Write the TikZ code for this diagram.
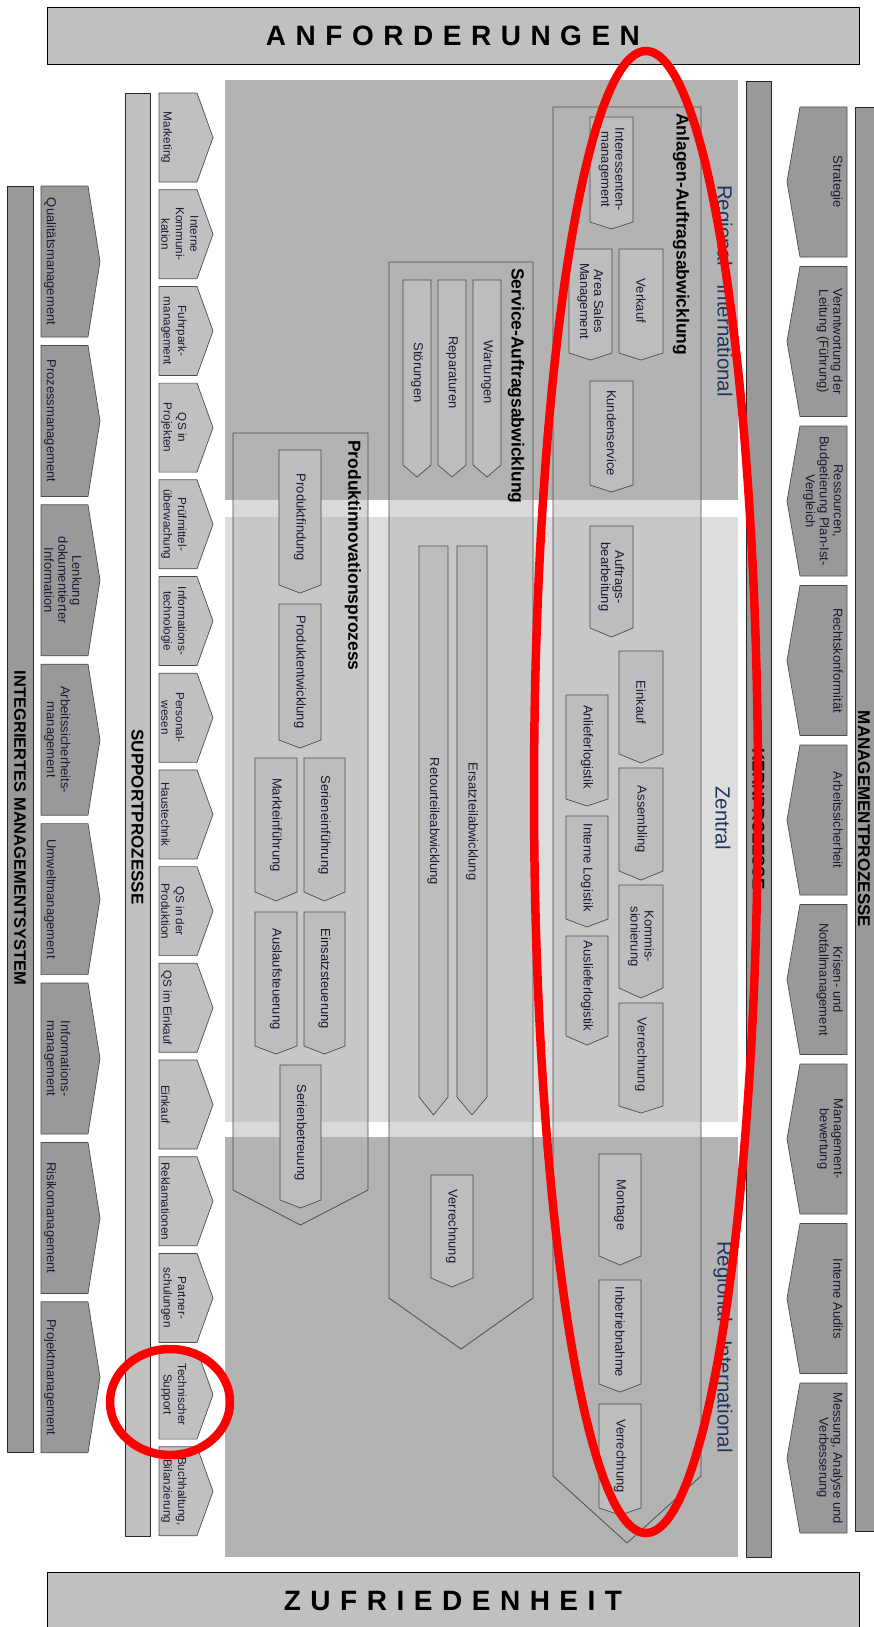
\documentclass[tikz,border=0pt]{standalone}
\usepackage{fontspec}
\setmainfont{Liberation Sans}
\newfontfamily\spacedfont[LetterSpace=34]{Liberation Sans}
\usetikzlibrary{positioning}

\begin{document}
\begin{tikzpicture}[x=1pt, y=-1pt, line join=round, line cap=round,
		mbar/.style={draw=black!85, line width=0.9pt},
		pitem/.style={draw=black!70, line width=0.7pt},
		procframe/.style={draw=black!70, line width=0.8pt, fill=zonedk, fill opacity=0.5},
		lbl/.style={rotate=-90, align=center, inner sep=0pt, text=lblc, font=\fontsize{13}{14}\selectfont},
		slbl/.style={lbl, font=\fontsize{11.7}{14.5}\selectfont},
		ttl/.style={rotate=-90, anchor=west, inner sep=0pt, font=\bfseries\fontsize{17.5}{20}\selectfont},
		zonelbl/.style={rotate=-90, inner sep=0pt, text=zonec, font=\fontsize{20.5}{24}\selectfont},
		barlbl/.style={rotate=-90, inner sep=0pt, font=\bfseries\fontsize{17}{20}\selectfont},
		banner/.style={draw=black, line width=0.9pt, fill=hdrc, minimum width=812pt, minimum height=57pt,
			font=\spacedfont\bfseries\fontsize{28}{32}\selectfont},
		redring/.style={draw=red, line width=8.5pt}]
		
		% Colours
		\definecolor{hdrc}{HTML}{C0C0C0}
		\definecolor{dkc}{HTML}{999999}
		\definecolor{zonedk}{HTML}{B3B3B3}
		\definecolor{zonelt}{HTML}{DDDDDD}
		\definecolor{boxc}{HTML}{BDBDBD}
		\definecolor{lblc}{HTML}{1A1A33}
		\definecolor{zonec}{HTML}{1F3560}
		
		\useasboundingbox (0,0) rectangle (873,1627);
		
		% 1. Anforderungen / Zufriedenheit
		\node[banner] (anf) at (453,35.5) {ANFORDERUNGEN};
		\node[banner] (zuf) at (453,1600.5) {ZUFRIEDENHEIT};
		
		% 2. Integriertes Managementsystem (left)
		\draw[mbar, fill=dkc] (7,186) rectangle (33,1452);
		\node[barlbl, font=\bfseries\fontsize{16.5}{20}\selectfont] (ims) at (20,828) {INTEGRIERTES MANAGEMENTSYSTEM};
		\foreach \k/\nm/\txt in {0/qm/Qualitätsmanagement, 1/pm/Prozessmanagement,
			2/lenk/{Lenkung\\dokumentierter\\Information}, 3/asm/{Arbeitssicherheits-\\management},
			4/um/Umweltmanagement, 5/im/{Informations-\\management}, 6/rm/Risikomanagement,
			7/projm/Projektmanagement}{
			\pgfmathsetmacro\yt{186+159.4*\k}
			\draw[pitem, fill=dkc] (41,\yt) -- (88,\yt) -- (100,\yt+75.5) -- (88,\yt+151) -- (41,\yt+151) -- cycle;
			\node[lbl, anchor=south] (\nm) at (44,\yt+75.5) {\txt};
		}
		
		% 3. Supportprozesse
		\draw[mbar, fill=hdrc] (125,93) rectangle (150,1536);
		\node[barlbl] (sup) at (137.5,817) {SUPPORTPROZESSE};
		\foreach \k/\nm/\txt in {0/mkt/Marketing, 1/ikom/{Interne\\Kommuni-\\kation}, 2/fuhr/{Fuhrpark-\\management},
			3/qsproj/{QS in\\Projekten}, 4/pruef/{Prüfmittel-\\überwachung}, 5/it/{Informations-\\technologie},
			6/pers/{Personal-\\wesen}, 7/haus/Haustechnik, 8/qsprod/{QS in der\\Produktion},
			9/qsek/QS im Einkauf, 10/ek/Einkauf, 11/rekl/Reklamationen, 12/partn/{Partner-\\schulungen},
			13/techs/{Technischer\\Support}, 14/buch/{Buchhaltung,\\Bilanzierung}}{
			\pgfmathsetmacro\yt{93+96.7*\k}
			\draw[pitem, fill=hdrc] (159,\yt) -- (197,\yt) -- (213,\yt+44.5) -- (197,\yt+89) -- (159,\yt+89) -- cycle;
			\node[slbl, anchor=south] (\nm) at (161,\yt+44.5) {\txt};
		}
		
		% 4. Kernprozesse: zones and bar
		\fill[zonedk] (225,80) rectangle (738,500);
		\fill[zonelt] (225,517) rectangle (738,1122);
		\fill[zonedk] (225,1137) rectangle (738,1557);
		\node[zonelbl] (regtop) at (723,291) {Regional - International};
		\node[zonelbl] (zentral) at (723,818) {Zentral};
		\node[zonelbl] (regbot) at (723,1347) {Regional - International};
		\draw[mbar, fill=dkc] (746,81) rectangle (771,1557);
		\node[barlbl] (kern) at (758.5,819) {KERNPROZESSE};
		
		% 5. Process frames (pointing down)
		\draw[procframe] (233,433) -- (368,433) -- (368,1190) -- (300.5,1225) -- (233,1190) -- cycle;
		\draw[procframe] (389,262) -- (533,262) -- (533,1298) -- (461,1349) -- (389,1298) -- cycle;
		\draw[procframe] (553,107) -- (701,107) -- (701,1476) -- (627,1543) -- (553,1476) -- cycle;
		\node[ttl] (pinno) at (353,440) {Produktinnovationsprozess};
		\node[ttl] (service) at (516,268) {Service-Auftragsabwicklung};
		\node[ttl] (anlagen) at (681,113) {Anlagen-Auftragsabwicklung};
		
		% 6. Process steps: x left/right, top, bottom, tip
		\foreach \xl/\xr/\yt/\yb/\yp/\nm/\txt in {
			279/321/450/585/593/pfind/Produktfindung,
			279/321/604/740/748/pentw/Produktentwicklung,
			255/297/758/892/901/markt/Markteinführung,
			304/345/758/892/901/serein/Serieneinführung,
			255/297/912/1046/1054/auslauf/Auslaufsteuerung,
			304/345/912/1046/1054/einsatz/Einsatzsteuerung,
			280/321/1065/1200/1208/serbetr/Serienbetreuung,
			473/501/280/465/477/wart/Wartungen,
			438/466/280/465/477/rep/Reparaturen,
			403/431/280/465/477/stoer/Störungen,
			457/487/546/1097/1115/ersatz/Ersatzteilabwicklung,
			419/448/546/1097/1115/retour/Retourteileabwicklung,
			431/473/1175/1278/1287/sverr/Verrechnung,
			590/633/117/222/229/interes/{Interessenten-\\management},
			619/663/249/353/360/verk/Verkauf,
			569/612/249/353/360/area/{Area Sales\\Management},
			590/633/381/485/492/kunden/Kundenservice,
			590/633/526/628/637/auftr/{Auftrags-\\bearbeitung},
			619/663/651/754/763/einkauf/Einkauf,
			619/663/768/871/880/assem/Assembling,
			619/663/885/988/998/kommis/{Kommis-\\sionierung},
			619/663/1003/1106/1113/verrz/Verrechnung,
			566/608/695/799/806/anlief/Anlieferlogistik,
			566/608/816/919/927/intlog/Interne Logistik,
			566/608/936/1036/1045/auslief/Auslieferlogistik,
			599/641/1154/1256/1265/mont/Montage,
			599/641/1280/1384/1392/inbetr/Inbetriebnahme,
			599/641/1404/1508/1515/verrr/Verrechnung}{
			\draw[pitem, fill=boxc] (\xl,\yt) -- (\xr,\yt) -- (\xr,\yb) -- ({(\xl+\xr)/2},\yp) -- (\xl,\yb) -- cycle;
			\node[lbl] (\nm) at ({(\xl+\xr)/2},{(\yt+\yb)/2}) {\txt};
		}
		
		% 7. Managementprozesse (right)
		\draw[mbar, fill=dkc] (855,107) rectangle (890,1531);
		\node[barlbl] (mgmt) at (864,819) {MANAGEMENTPROZESSE};
		\foreach \k/\nm/\txt in {0/strat/Strategie, 1/verantw/{Verantwortung der\\Leitung (Führung)},
			2/ressourc/{Ressourcen,\\Budgetierung Plan-Ist-\\Vergleich}, 3/recht/Rechtskonformität,
			4/arbs/Arbeitssicherheit, 5/krisen/{Krisen- und\\Notfallmanagement}, 6/mbew/{Management-\\bewertung},
			7/audits/Interne Audits, 8/messung/{Messung, Analyse und\\Verbesserung}}{
			\pgfmathsetmacro\yt{107+159.5*\k}
			\draw[pitem, fill=dkc] (847,\yt) -- (800,\yt) -- (787,\yt+75) -- (800,\yt+150) -- (847,\yt+150) -- cycle;
			\node[lbl, anchor=north] (\nm) at (843,\yt+75) {\txt};
		}
		
		% 8. Red markings
		\draw[redring] (646,792) ellipse [x radius=112pt, y radius=741pt];
		\draw[redring] (170,1402) ellipse [x radius=60pt, y radius=53pt];
		
	\end{tikzpicture}
\end{document}
